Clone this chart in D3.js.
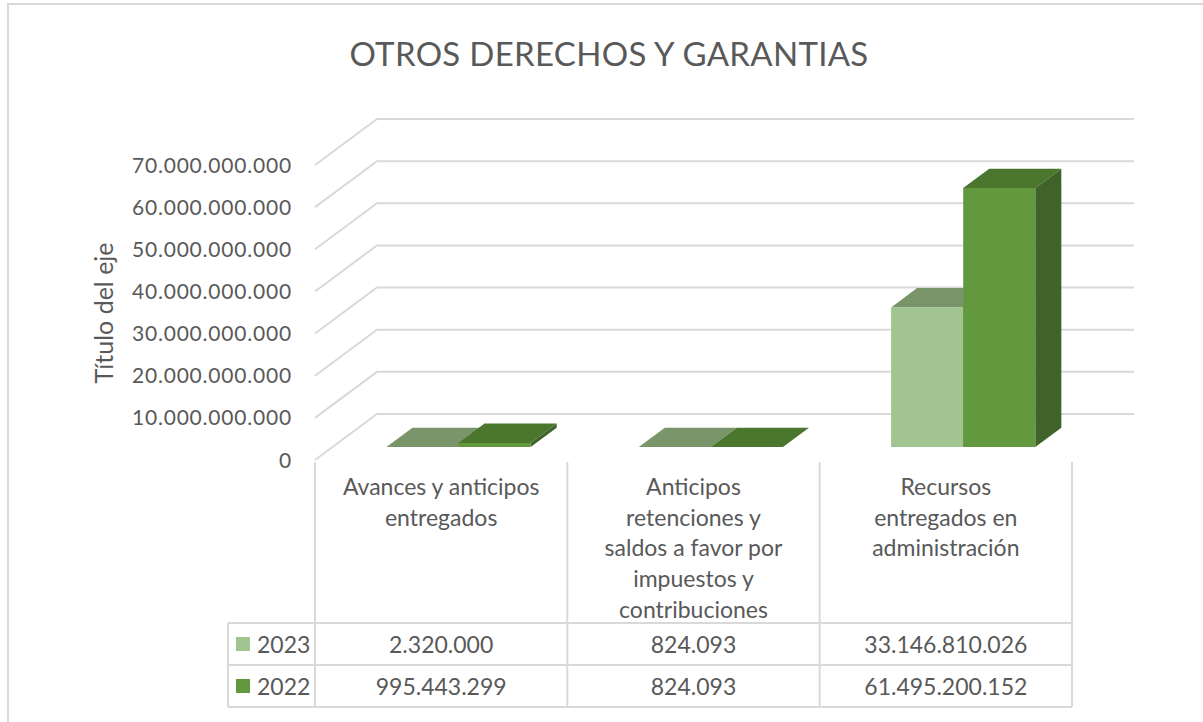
<!DOCTYPE html>
<html>
<head>
<meta charset="utf-8">
<script src="https://cdn.jsdelivr.net/npm/d3@7"></script>
<style>
  body { margin: 0; background: #fff; }
  text { font-family: Lato, "Open Sans", sans-serif; fill: #595959; }
</style>
</head>
<body>
<script>
var width = 1203, height = 722

// data
var categories = [
  ["Avances y anticipos", "entregados"],
  ["Anticipos", "retenciones y", "saldos a favor por", "impuestos y", "contribuciones"],
  ["Recursos", "entregados en", "administración"]
]
var seriesNames = ["2023", "2022"]
var values2023 = [2320000, 824093, 33146810026]
var values2022 = [995443299, 824093, 61495200152]
var tickValues = [0, 10e9, 20e9, 30e9, 40e9, 50e9, 60e9, 70e9]

var seriesValues = [values2023, values2022]
var frontColor = ["#a1c490", "#62993e"]
var topColor = ["#7a9569", "#4a762d"]
var sideColor = ["#6f8a5f", "#3f6329"]

var es = d3.formatLocale({decimal: ",", thousands: ".", grouping: [3], currency: ["$", ""]})
var fmt = es.format(",.0f")

var svg = d3.select("body").append("svg")
  .attr("width", width)
  .attr("height", height)

// chart border
svg.append("path")
  .attr("d", "M8," + height + "V4H" + width)
  .attr("fill", "none")
  .attr("stroke", "#d9d9d9")
  .attr("stroke-width", 2)

svg.append("text")
  .attr("x", 609).attr("y", 53)
  .attr("text-anchor", "middle")
  .attr("dominant-baseline", "central")
  .style("font-size", "33px")
  .style("letter-spacing", "0.3px")
  .text("OTROS DERECHOS Y GARANTIAS")

//scales
var x = d3.scaleBand()
  .domain(d3.range(categories.length))
  .range([315, 1072])

var xs = d3.scaleBand()
  .domain(d3.range(seriesNames.length))
  .range([0, x.bandwidth()])
  .paddingOuter(0.75)

var y = d3.scaleLinear()
  .domain([0, 70e9])
  .range([460, 165])

var depth = [62, -46]   // floor depth vector
var f0 = 0.28, f1 = 0.7  // bar depth within the floor

function pt(px, v, f) {
  return [px + f * depth[0], y(v) + f * depth[1]]
}

// gridlines: left wall diagonal + back wall
svg.append("g")
  .selectAll("polyline")
  .data(tickValues)
  .enter().append("polyline")
  .attr("points", function(d) {
    return [pt(x.range()[0], d, 0), pt(x.range()[0], d, 1), pt(x.range()[1], d, 1)].join(" ")
  })
  .attr("fill", "none")
  .attr("stroke", "#d9d9d9")
  .attr("stroke-width", 2)

// tick labels
svg.append("g")
  .selectAll("text")
  .data(tickValues)
  .enter().append("text")
  .attr("x", 292)
  .attr("y", function(d) { return y(d) - 1 })
  .attr("text-anchor", "end")
  .attr("dominant-baseline", "central")
  .style("font-size", "21px")
  .style("letter-spacing", "0.8px")
  .text(function(d) { return fmt(d) })

svg.append("text")
  .attr("transform", "translate(103,313) rotate(-90)")
  .attr("text-anchor", "middle")
  .attr("dominant-baseline", "central")
  .style("font-size", "25px")
  .text("Título del eje")

// bars, drawn left to right
var bars = []
categories.forEach(function(c, i) {
  seriesNames.forEach(function(s, j) {
    bars.push({cat: i, ser: j, value: seriesValues[j][i]})
  })
})

var bar = svg.append("g")
  .selectAll("g")
  .data(bars)
  .enter().append("g")

bar.append("polygon")
  .attr("points", function(d) {
    var x0 = x(d.cat) + xs(d.ser), x1 = x0 + xs.bandwidth()
    return [pt(x1, 0, f0), pt(x1, 0, f1), pt(x1, d.value, f1), pt(x1, d.value, f0)].join(" ")
  })
  .attr("fill", function(d) { return sideColor[d.ser] })

bar.append("polygon")
  .attr("points", function(d) {
    var x0 = x(d.cat) + xs(d.ser), x1 = x0 + xs.bandwidth()
    return [pt(x0, d.value, f0), pt(x1, d.value, f0), pt(x1, d.value, f1), pt(x0, d.value, f1)].join(" ")
  })
  .attr("fill", function(d) { return topColor[d.ser] })

bar.append("polygon")
  .attr("points", function(d) {
    var x0 = x(d.cat) + xs(d.ser), x1 = x0 + xs.bandwidth()
    return [pt(x0, 0, f0), pt(x1, 0, f0), pt(x1, d.value, f0), pt(x0, d.value, f0)].join(" ")
  })
  .attr("fill", function(d) { return frontColor[d.ser] })

// data table
var tableTop = 462, headBottom = 623, rowH = 42, legendLeft = 228
var tableBottom = headBottom + rowH * seriesNames.length
var table = svg.append("g")
  .attr("stroke", "#d9d9d9")
  .attr("stroke-width", 2)
  .attr("fill", "none")

d3.range(categories.length + 1).forEach(function(i) {
  var px = i < categories.length ? x(i) : x.range()[1]
  table.append("line")
    .attr("x1", px).attr("x2", px)
    .attr("y1", tableTop).attr("y2", tableBottom)
})
table.append("line")
  .attr("x1", legendLeft).attr("x2", legendLeft)
  .attr("y1", headBottom).attr("y2", tableBottom)
d3.range(seriesNames.length + 1).forEach(function(k) {
  var py = headBottom + rowH * k
  table.append("line")
    .attr("x1", legendLeft).attr("x2", x.range()[1])
    .attr("y1", py).attr("y2", py)
})

// category labels
categories.forEach(function(lines, i) {
  svg.append("text")
    .attr("text-anchor", "middle")
    .style("font-size", "23px")
    .selectAll("tspan")
    .data(lines)
    .enter().append("tspan")
    .attr("x", x(i) + x.bandwidth() / 2)
    .attr("y", function(d, k) { return 495 + k * 30.7 })
    .text(function(d) { return d })
})

// rows
seriesNames.forEach(function(s, j) {
  var cy = headBottom + rowH * j + rowH / 2
  svg.append("rect")
    .attr("x", 236).attr("y", cy - 7)
    .attr("width", 14).attr("height", 14)
    .attr("fill", frontColor[j])
  svg.append("text")
    .attr("x", 257).attr("y", cy)
    .attr("dominant-baseline", "central")
    .style("font-size", "23px")
    .text(s)
  seriesValues[j].forEach(function(v, i) {
    svg.append("text")
      .attr("x", x(i) + x.bandwidth() / 2)
      .attr("y", cy)
      .attr("text-anchor", "middle")
      .attr("dominant-baseline", "central")
      .style("font-size", "23px")
      .text(fmt(v))
  })
})
</script>
</body>
</html>
